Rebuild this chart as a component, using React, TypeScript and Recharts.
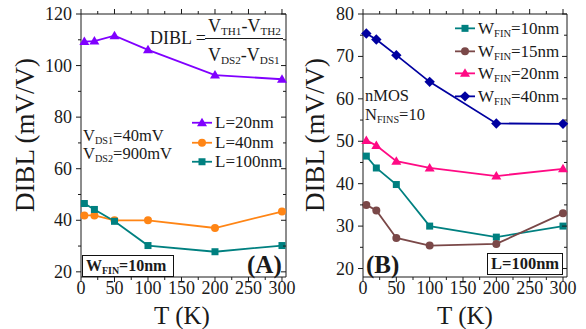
import React from 'react';
import { LineChart, Line, XAxis, YAxis, ReferenceLine, Legend } from 'recharts';

const temps = [5, 20, 50, 100, 200, 300];

// (A) W_FIN = 10nm, three gate lengths
const diblL20 = [109.3, 109.5, 111.6, 106.1, 96.3, 94.7];
const diblL40 = [41.9, 41.9, 40.0, 40.0, 37.0, 43.4];
const diblL100 = [46.5, 44.2, 39.6, 30.2, 27.8, 30.2];

// (B) L = 100nm, four fin widths
const diblW10 = [46.5, 43.7, 39.8, 30.0, 27.4, 30.0];
const diblW15 = [35.0, 33.7, 27.2, 25.4, 25.8, 33.0];
const diblW20 = [50.2, 49.0, 45.3, 43.7, 41.8, 43.5];
const diblW40 = [75.4, 74.0, 70.3, 64.0, 54.2, 54.1];

const xTicks = [0, 25, 50, 75, 100, 125, 150, 175, 200, 225, 250, 275, 300];
const yTicksA = [20, 30, 40, 50, 60, 70, 80, 90, 100, 110, 120];
const yTicksB = [20, 25, 30, 35, 40, 45, 50, 55, 60, 65, 70, 75, 80];

const dataA = temps.map((t, i) => ({ t, l20: diblL20[i], l40: diblL40[i], l100: diblL100[i] }));
const dataB = temps.map((t, i) => ({ t, w10: diblW10[i], w15: diblW15[i], w20: diblW20[i], w40: diblW40[i] }));

const seriesA = [
  { key: 'l20', label: 'L=20nm', color: '#8000ff', shape: 'triangle' },
  { key: 'l40', label: 'L=40nm', color: '#ff8515', shape: 'circle' },
  { key: 'l100', label: 'L=100nm', color: '#008080', shape: 'square' },
];

const seriesB = [
  { key: 'w10', label: '=10nm', color: '#008080', shape: 'square' },
  { key: 'w15', label: '=15nm', color: '#7a4848', shape: 'circle' },
  { key: 'w20', label: '=20nm', color: '#ff0a84', shape: 'triangle' },
  { key: 'w40', label: '=40nm', color: '#0000a0', shape: 'diamond' },
];

const FONT = "'Liberation Serif', 'Times New Roman', serif";
const INK = '#1a1a1a';
const PLOT_H = 263;

function Marker({ shape, cx, cy, color }: any) {
  const r = 4;
  if (shape === 'triangle')
    return <polygon points={`${cx},${cy - r - 1} ${cx - r - 1},${cy + r - 0.5} ${cx + r + 1},${cy + r - 0.5}`} fill={color} />;
  if (shape === 'circle') return <circle cx={cx} cy={cy} r={r} fill={color} />;
  if (shape === 'square') return <rect x={cx - r + 0.5} y={cy - r + 0.5} width={2 * r - 1} height={2 * r - 1} fill={color} />;
  const d = r + 1.2;
  return <polygon points={`${cx},${cy - d} ${cx + d},${cy} ${cx},${cy + d} ${cx - d},${cy}`} fill={color} />;
}

function makeXTick(plotH: number) {
  return (props: any) => {
    const { x, y, payload } = props;
    const v = payload.value;
    const major = v % 50 === 0;
    const len = major ? 5 : 3;
    return (
      <g>
        <line x1={x} x2={x} y1={y} y2={y + len} stroke={INK} />
        <line x1={x} x2={x} y1={y - plotH} y2={y - plotH - len} stroke={INK} />
        {major && (
          <text x={x} y={y + 17} textAnchor="middle" style={{ fontSize: 18, fontFamily: FONT }} fill={INK}>
            {v}
          </text>
        )}
      </g>
    );
  };
}

function makeYTick(plotW: number, step: number) {
  return (props: any) => {
    const { x, y, payload } = props;
    const v = payload.value;
    const major = v % step === 0;
    const len = major ? 5 : 3;
    return (
      <g>
        <line x1={x} x2={x - len} y1={y} y2={y} stroke={INK} />
        <line x1={x + plotW} x2={x + plotW - len} y1={y} y2={y} stroke={INK} />
        {major && (
          <text x={x - 9} y={y + 6} textAnchor="end" style={{ fontSize: 18, fontFamily: FONT }} fill={INK}>
            {v}
          </text>
        )}
      </g>
    );
  };
}

const subStyle: React.CSSProperties = { fontSize: '0.62em', verticalAlign: '-0.3em', lineHeight: 0 };

function LegendRows({ series, rowH, withW }: any) {
  return (
    <div style={{ fontFamily: FONT, color: INK }}>
      {series.map((s: any) => (
        <div key={s.key} style={{ display: 'flex', alignItems: 'center', height: rowH }}>
          <svg width={22} height={rowH} style={{ display: 'block' }}>
            <line x1={1} x2={21} y1={rowH / 2} y2={rowH / 2} stroke={s.color} strokeWidth={1.8} />
            <Marker shape={s.shape} cx={11} cy={rowH / 2} color={s.color} />
          </svg>
          <span style={{ fontSize: 17, lineHeight: 1, marginLeft: 2, whiteSpace: 'nowrap' }}>
            {withW ? (
              <>
                W<sub style={subStyle}>FIN</sub>
                {s.label}
              </>
            ) : (
              s.label
            )}
          </span>
        </div>
      ))}
    </div>
  );
}

function Abs({ left, top, style, children }: any) {
  return (
    <div style={{ position: 'absolute', left, top, fontFamily: FONT, color: INK, lineHeight: 1, whiteSpace: 'nowrap', ...style }}>
      {children}
    </div>
  );
}

function Panel({ data, series, yDomain, yTicks, yStep, width, marginRight, legend }: any) {
  return (
    <LineChart width={width} height={329} data={data} margin={{ top: 14, right: marginRight, bottom: 0, left: 0 }}>
      <XAxis
        dataKey="t"
        type="number"
        domain={[0, 306]}
        ticks={xTicks}
        interval={0}
        height={52}
        tickSize={0}
        tickMargin={0}
        tickLine={false}
        axisLine={{ stroke: INK }}
        tick={makeXTick(PLOT_H)}
      />
      <YAxis
        type="number"
        domain={yDomain}
        ticks={yTicks}
        interval={0}
        width={81}
        tickSize={0}
        tickMargin={0}
        tickLine={false}
        axisLine={{ stroke: INK }}
        tick={makeYTick(width - 81 - marginRight, yStep)}
      />
      <ReferenceLine y={yDomain[1]} stroke={INK} />
      <ReferenceLine x={306} stroke={INK} />
      {legend}
      {series.map((s: any) => (
        <Line
          key={s.key}
          dataKey={s.key}
          stroke={s.color}
          strokeWidth={1.8}
          isAnimationActive={false}
          dot={(p: any) => <Marker key={p.index} shape={s.shape} cx={p.cx} cy={p.cy} color={s.color} />}
        />
      ))}
    </LineChart>
  );
}

export default function App() {
  return (
    <div style={{ position: 'absolute', left: 0, top: 0, width: 586, height: 329, background: '#fff', fontFamily: FONT }}>
      <div style={{ position: 'absolute', left: 0, top: 0 }}>
        <Panel
          data={dataA}
          series={seriesA}
          yDomain={[18, 120]}
          yTicks={yTicksA}
          yStep={20}
          width={300}
          marginRight={14}
          legend={
            <Legend
              layout="vertical"
              align="center"
              verticalAlign="middle"
              wrapperStyle={{ left: 191, top: 113, width: 100 }}
              content={() => <LegendRows series={seriesA} rowH={19.5} />}
            />
          }
        />
      </div>
      <div style={{ position: 'absolute', left: 282, top: 0 }}>
        <Panel
          data={dataB}
          series={seriesB}
          yDomain={[18, 80]}
          yTicks={yTicksB}
          yStep={10}
          width={304}
          marginRight={19}
          legend={
            <Legend
              layout="vertical"
              align="center"
              verticalAlign="middle"
              wrapperStyle={{ left: 172, top: 17, width: 110 }}
              content={() => <LegendRows series={seriesB} rowH={22.7} withW />}
            />
          }
        />
      </div>

      {/* axis titles */}
      <Abs left={25} top={135} style={{ fontSize: 27, transform: 'translate(-50%, -50%) rotate(-90deg)' }}>
        DIBL (mV/V)
      </Abs>
      <Abs left={315} top={135} style={{ fontSize: 27, transform: 'translate(-50%, -50%) rotate(-90deg)' }}>
        DIBL (mV/V)
      </Abs>
      <Abs left={182} top={315} style={{ fontSize: 25, transform: 'translate(-50%, -50%)' }}>
        T (K)
      </Abs>
      <Abs left={465} top={315} style={{ fontSize: 25, transform: 'translate(-50%, -50%)' }}>
        T (K)
      </Abs>

      {/* panel A notes */}
      <Abs left={150} top={28.5} style={{ fontSize: 18 }}>
        DIBL =
      </Abs>
      <Abs left={208} top={17} style={{ fontSize: 18, height: 18 }}>
        V<sub style={subStyle}>TH1</sub>-V<sub style={subStyle}>TH2</sub>
      </Abs>
      <div style={{ position: 'absolute', left: 205, top: 38, width: 78, height: 1, background: INK }} />
      <Abs left={208} top={46} style={{ fontSize: 18, height: 18 }}>
        V<sub style={subStyle}>DS2</sub>-V<sub style={subStyle}>DS1</sub>
      </Abs>
      <Abs left={83} top={128} style={{ fontSize: 16.5, height: 16.5 }}>
        V<sub style={subStyle}>DS1</sub>=40mV
      </Abs>
      <Abs left={83} top={145.5} style={{ fontSize: 16.5, height: 16.5 }}>
        V<sub style={subStyle}>DS2</sub>=900mV
      </Abs>
      <Abs
        left={82}
        top={255}
        style={{ fontSize: 16, fontWeight: 'bold', border: '1.5px solid #111', background: '#fff', padding: '2px 3px 2px 3px', width: 84, height: 16 }}
      >
        W<sub style={subStyle}>FIN</sub>=10nm
      </Abs>
      <Abs left={247} top={252} style={{ fontSize: 25, fontWeight: 'bold' }}>
        (A)
      </Abs>

      {/* panel B notes */}
      <Abs left={365} top={88} style={{ fontSize: 16.5, height: 16.5 }}>
        nMOS
      </Abs>
      <Abs left={365} top={107} style={{ fontSize: 16.5, height: 16.5 }}>
        N<sub style={subStyle}>FINS</sub>=10
      </Abs>
      <Abs left={366} top={252} style={{ fontSize: 25, fontWeight: 'bold' }}>
        (B)
      </Abs>
      <Abs
        left={487}
        top={253}
        style={{ fontSize: 16.5, fontWeight: 'bold', border: '1.5px solid #111', background: '#fff', padding: '2px 3px', width: 68, height: 16 }}
      >
        L=100nm
      </Abs>
    </div>
  );
}
